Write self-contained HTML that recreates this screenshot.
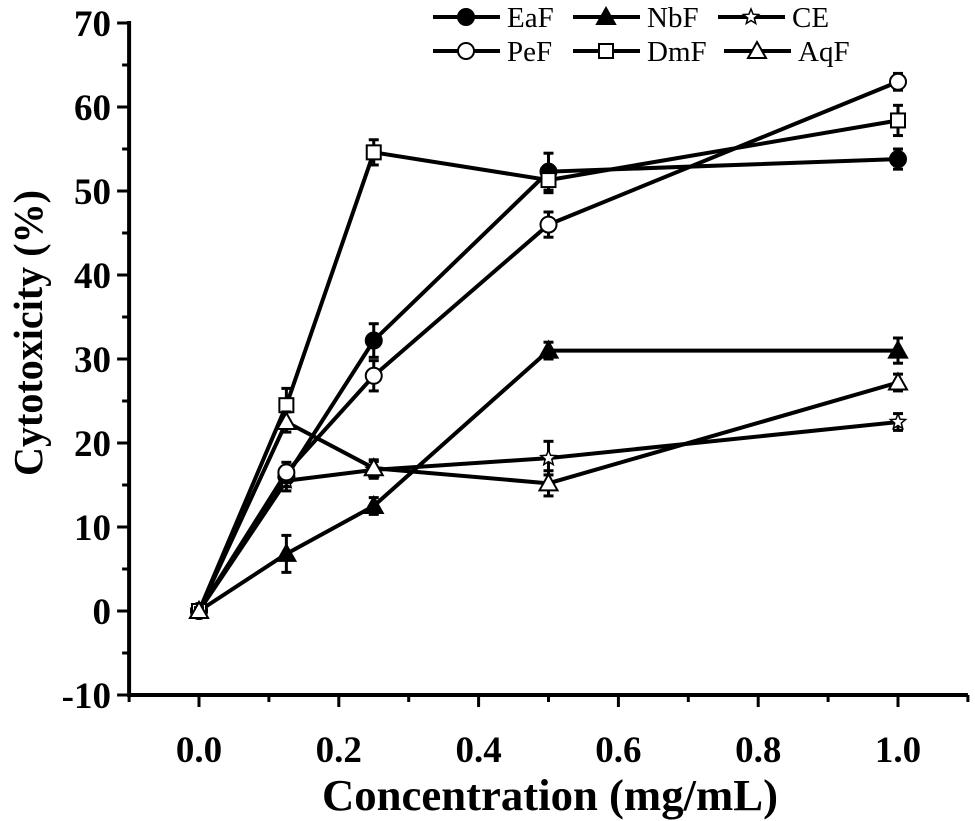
<!DOCTYPE html>
<html><head><meta charset="utf-8"><style>
body{margin:0;background:#fff}
svg{display:block;font-family:"Liberation Serif",serif}
</style></head><body>
<svg id="chart" width="975" height="821" viewBox="0 0 975 821"></svg>
<script>
const xs=[0,0.125,0.25,0.5,1.0];
const seriesNames=["EaF","NbF","CE","PeF","DmF","AqF"];
const eaf=[0,16,32.2,52.3,53.8];
const nbf=[0,6.8,12.5,31,31];
const ce=[0,15.5,16.8,18.2,22.5];
const pef=[0,16.5,28,46,63];
const dmf=[0,24.5,54.6,51.3,58.4];
const aqf=[0,22.5,17,15.2,27.2];
const eafErr=[0.4,1.2,2,2.2,1.2];
const nbfErr=[0.4,2.2,1,1,1.5];
const ceErr=[0.4,1.2,1,2,1];
const pefErr=[0.4,1.2,1.8,1.5,1];
const dmfErr=[0.4,2,1.5,1.5,1.8];
const aqfErr=[0.4,1.2,1,1.5,1];
const xTicks=[0,0.2,0.4,0.6,0.8,1.0];
const yTicks=[-10,0,10,20,30,40,50,60,70];
const NS="http://www.w3.org/2000/svg";
const svg=document.getElementById('chart');
const X=v=>199+v*699;
const Y=v=>611-v*8.4;
function mk(t,a,p){const e=document.createElementNS(NS,t);for(const k in a)e.setAttribute(k,a[k]);(p||svg).appendChild(e);return e;}
let ax=mk('line',{x1:X(-0.1),y1:Y(-10),x2:X(1.1),y2:Y(-10),stroke:'#000','stroke-width':4});


let ay=mk('line',{x1:X(-0.1),y1:Y(-10)+2,x2:X(-0.1),y2:Y(70)-2,stroke:'#000','stroke-width':4});


for(let i=0;i<=12;i++){const v=-0.1+i*0.1;const major=i%2==1;
 const t=mk('line',{x1:X(v),y1:Y(-10),x2:X(v),y2:Y(-10)+(major?12:7),stroke:'#000','stroke-width':3});
 
 }
xTicks.forEach(v=>{const t=mk('text',{x:X(v),y:762,'text-anchor':'middle','font-size':37,'font-weight':'bold'});t.textContent=v.toFixed(1);
 
 });
for(let v=-10;v<=70;v+=5){const major=v%10==0;
 const t=mk('line',{x1:X(-0.1),y1:Y(v),x2:X(-0.1)-(major?12:7),y2:Y(v),stroke:'#000','stroke-width':3});
 
 }
yTicks.forEach(v=>{const t=mk('text',{x:111,y:Y(v)+13,'text-anchor':'end','font-size':37,'font-weight':'bold'});t.textContent=v;
 
 });
let xt=mk('text',{x:322,y:810,'font-size':44,'font-weight':'bold',textLength:456,lengthAdjust:'spacingAndGlyphs'});xt.textContent='Concentration (mg/mL)';


let yt=mk('text',{x:0,y:0,'font-size':41,'font-weight':'bold',textLength:286,lengthAdjust:'spacingAndGlyphs',transform:'translate(42,476) rotate(-90)'});yt.textContent='Cytotoxicity (%)';


function marker(type,cx,cy,g){
 if(type=='circle-f')return mk('circle',{cx,cy,r:8,fill:'#000',stroke:'#000','stroke-width':2},g);
 if(type=='circle-o')return mk('circle',{cx,cy,r:8,fill:'#fff',stroke:'#000','stroke-width':2},g);
 if(type=='sq')return mk('rect',{x:cx-7,y:cy-7,width:14,height:14,fill:'#fff',stroke:'#000','stroke-width':2},g);
 if(type=='tri-f')return mk('polygon',{points:`${cx},${cy-9} ${cx+9},${cy+7} ${cx-9},${cy+7}`,fill:'#000',stroke:'#000','stroke-width':2},g);
 if(type=='tri-o')return mk('polygon',{points:`${cx},${cy-9} ${cx+9},${cy+7} ${cx-9},${cy+7}`,fill:'#fff',stroke:'#000','stroke-width':2},g);
 let p=[];for(let i=0;i<10;i++){const r=i%2?3.5:8;const a=-Math.PI/2+i*Math.PI/5;p.push((cx+r*Math.cos(a)).toFixed(1)+','+(cy+r*Math.sin(a)).toFixed(1));}
 return mk('polygon',{points:p.join(' '),fill:'#fff',stroke:'#000','stroke-width':1.5},g);
}
const all=[[eaf,eafErr,'circle-f'],[nbf,nbfErr,'tri-f'],[ce,ceErr,'star'],[pef,pefErr,'circle-o'],[dmf,dmfErr,'sq'],[aqf,aqfErr,'tri-o']];
all.forEach((s,si)=>{
 const g=mk('g',{});
 
 
 mk('polyline',{points:xs.map((x,i)=>X(x)+','+Y(s[0][i])).join(' '),fill:'none',stroke:'#000','stroke-width':4},g);
 xs.forEach((x,i)=>{const e=s[1][i],cx=X(x);
  mk('line',{x1:cx,y1:Y(s[0][i]+e),x2:cx,y2:Y(s[0][i]-e),stroke:'#000','stroke-width':3},g);
  mk('line',{x1:cx-5,y1:Y(s[0][i]+e),x2:cx+5,y2:Y(s[0][i]+e),stroke:'#000','stroke-width':3},g);
  mk('line',{x1:cx-5,y1:Y(s[0][i]-e),x2:cx+5,y2:Y(s[0][i]-e),stroke:'#000','stroke-width':3},g);
  const m=marker(s[2],cx,Y(s[0][i]),g);
  
  });
});
const legX=[433,573,718],legY=[17,51];
all.forEach((s,si)=>{const col=si%3,row=Math.floor(si/3);const lx=legX[col]+(col==2&&row==1?6:0),ly=legY[row];
 const g=mk('g',{});
 
 
 mk('line',{x1:lx,y1:ly,x2:lx+67,y2:ly,stroke:'#000','stroke-width':4},g);
 marker(s[2],lx+33,ly,g);
 const t=mk('text',{x:lx+74,y:ly+10,'font-size':29},g);t.textContent=seriesNames[si];});
</script>
</body></html>
